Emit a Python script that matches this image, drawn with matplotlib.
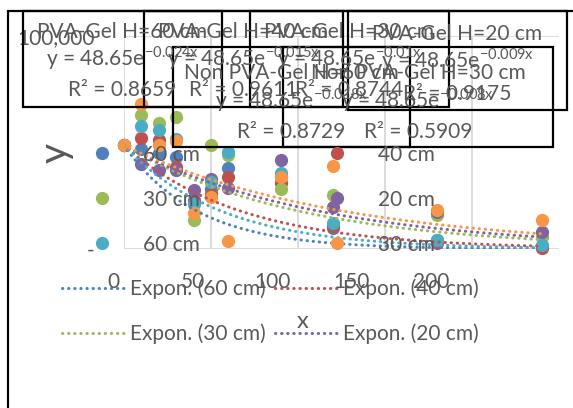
import numpy as np
import matplotlib
matplotlib.use('Agg')
from matplotlib import pyplot as plt
from matplotlib.patches import Rectangle
from matplotlib.lines import Line2D

plt.rcParams['font.family'] = ['Lato', 'DejaVu Sans']
plt.rcParams['mathtext.fontset'] = 'custom'
plt.rcParams['mathtext.rm'] = 'Lato'

### Dane

x = [0, 10, 20, 30, 40, 50, 60, 90, 120, 180, 240]
pva_60 = [48.65, 47, 45, 43, 23, 28, 38, 34, 10, 4, 1]
pva_40 = [48.65, 52, 51, 38.5, 22, 26, 34, 31, 11, 3, 0.5]
pva_30 = [48.65, 63, 59, 62, 13.6, 49, 44, 28, 25.4, 16, 5.6]
pva_20 = [48.65, 40, 37, 37, 27.7, 33, 28.6, 41.8, 19.7, 17.5, 8]
non_60 = [48.65, 57.7, 56, 51.6, 21, 31.5, 45.5, 35.7, 12.2, 4.2, 1.9]
non_30 = [48.65, 68, 49, 50.7, 17, 24.4, 3.8, 33.8, 39, 18.3, 13.6]

series = [pva_60, pva_40, pva_30, pva_20, non_60, non_30]
names = ['60 cm', '40 cm', '30 cm', '20 cm', '60 cm', '30 cm']
titles = ['PVA-Gel H=60 cm', 'PVA-Gel H=40 cm', 'PVA-Gel H=30 cm', 'PVA-Gel H=20 cm',
          'Non PVA-Gel H=60 cm', 'Non PVA-Gel H=30 cm']
a = 48.65
b = [-0.024, -0.015, -0.01, -0.009, -0.018, -0.008]
r2 = ['0.8659', '0.9611', '0.8744', '0.9175', '0.8729', '0.5909']
colors = ['#4F81BD', '#C0504D', '#9BBB59', '#8064A2', '#4BACC6', '#F79646']
xticks = [0, 50, 100, 150, 200]
yticks = [0, 100]
ytick_labels = ['-', '100,000']

W, H = 573, 408
TXT = '#595959'
FS = 15

def fx(p):
    return p / W

def fy(p):
    return 1 - p / H

fig = plt.figure(figsize=[W / 100, H / 100], dpi=100, facecolor='white')
ax = fig.add_axes([fx(124), fy(249), (559 - 124) / W, (249 - 36) / H])
ax.set_xlim(0, 250)
ax.set_ylim(0, 100)
for s in ax.spines.values():
    s.set_visible(False)
ax.set_xticks(xticks)
ax.set_xticklabels([])
ax.set_yticks(yticks)
ax.set_yticklabels(ytick_labels, fontsize=FS, color=TXT)
ax.tick_params(length=0, pad=21)
ax.grid(True, color='#D9D9D9', lw=1.3)
ax.set_axisbelow(True)

# punkty
for ys, c in zip(series, colors):
    ax.plot(x, ys, 'o', color=c, ms=8.5, mec=c, zorder=3, clip_on=False)

# linie trendu
xt = np.linspace(0, max(x), 200)
for bb, c in zip(b, colors):
    ax.plot(xt, a * np.exp(bb * xt), color=c, lw=2.2, ls=(0, (0.1, 1.9)),
            dash_capstyle='round', zorder=4)

# etykiety osi x (przesuniete jak w oryginale)
for i, t in enumerate(xticks):
    fig.text(fx(113 + 79.5 * i), fy(288), str(t), ha='center', va='baseline',
             fontsize=FS, color=TXT)
fig.text(fx(303), fy(322), 'x', ha='center', va='center', fontsize=17, color=TXT)
fig.text(fx(56), fy(153), 'y', ha='center', va='center', fontsize=28, color=TXT,
         rotation=90)

# legenda
mark_pos = [(102, 153), (337, 153), (102, 198), (337, 198), (102, 243), (337, 243)]
for (mx, my), n, c in zip(mark_pos, names, colors):
    fig.add_artist(Line2D([fx(mx)], [fy(my)], marker='o', ms=8.5, color=c, mec=c))
    fig.text(fx(mx + 41), fy(my + 8), n, ha='left', va='baseline', fontsize=FS, color=TXT)
line_pos = [(62, 288), (275, 288), (62, 333), (275, 333)]
for (lx, ly), n, c in zip(line_pos, names[:4], colors[:4]):
    fig.add_artist(Line2D([fx(lx), fx(lx + 63)], [fy(ly), fy(ly)], color=c, lw=2.2,
                          ls=(0, (0.1, 1.9)), dash_capstyle='round'))
    fig.text(fx(lx + 68), fy(ly + 7), f'Expon. ({n})', ha='left', va='baseline',
             fontsize=FS, color=TXT)

# ramki z rownaniami trendu
boxes = [(23, 222, 11, 107), (144, 343, 11, 107), (250, 449, 11, 107), (348, 567, 11, 110),
         (173, 410, 47, 147), (283, 553, 47, 147)]
offs = [(27, 54, 85)] * 3 + [(29, 56, 89)] + [(32, 61, 91)] * 2
for (l, r, t, bt), off, tt, bb, rr in zip(boxes, offs, titles, b, r2):
    fig.add_artist(Rectangle((fx(l), fy(bt)), (r - l) / W, (bt - t) / H, fill=False,
                             ec='black', lw=1.6))
    cx = fx((l + r) / 2)
    fig.text(cx, fy(t + off[0]), tt, ha='center', va='baseline', fontsize=FS, color=TXT)
    fig.text(cx, fy(t + off[1]), f'y = 48.65e$^{{\\mathregular{{{bb:g}x}}}}$', ha='center',
             va='baseline', fontsize=FS, color=TXT)
    fig.text(cx, fy(t + off[2]), f'R² = {rr}', ha='center', va='baseline', fontsize=FS,
             color=TXT)

# ramka wykresu
fig.add_artist(Rectangle((fx(8), -0.1), 1.2, fy(11) + 0.1, fill=False, ec='black', lw=1.6))

fig.savefig('out.png', dpi=100, facecolor='white')
